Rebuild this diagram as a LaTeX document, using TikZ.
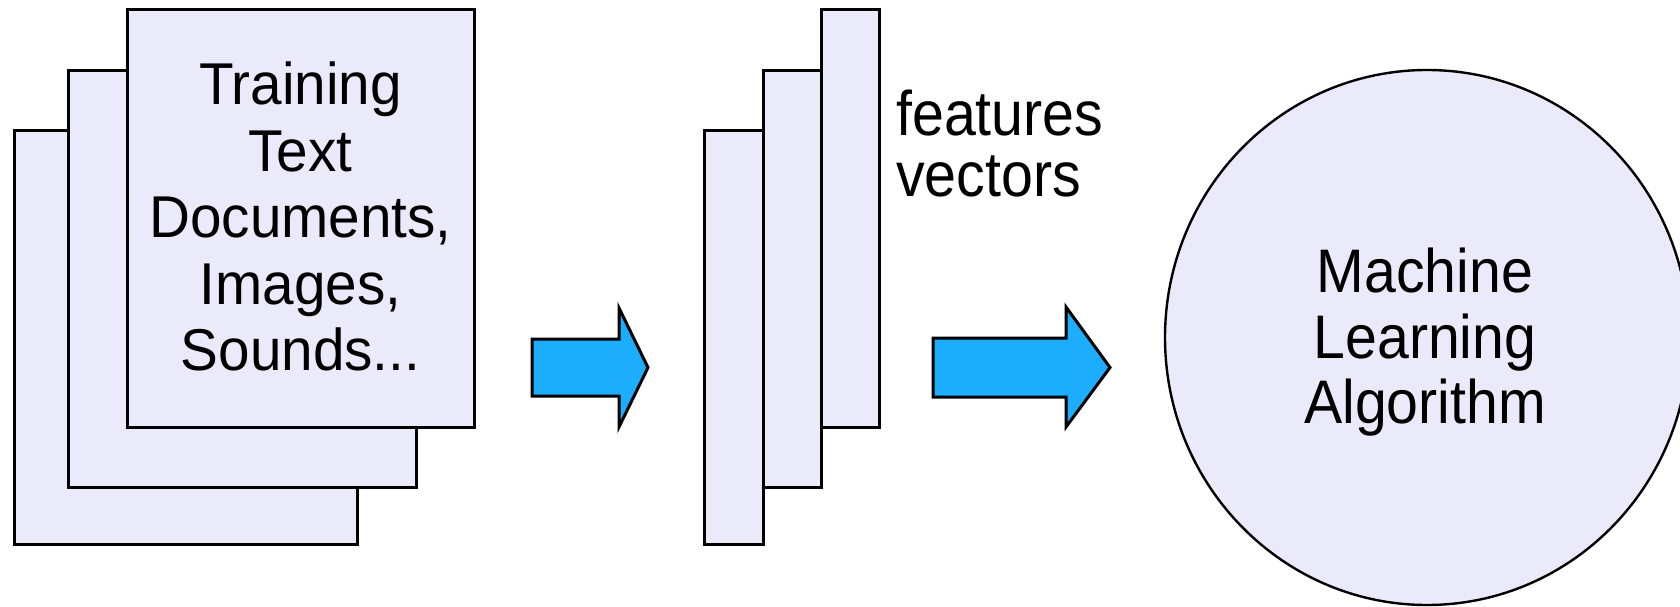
\documentclass[tikz,border=0pt]{standalone}
\usepackage{fontspec}
\usetikzlibrary{shapes.geometric}
\setmainfont{Liberation Sans}
\newfontfamily\docfont[FakeStretch=0.96]{Liberation Sans}
\newfontfamily\featfont[FakeStretch=0.91]{Liberation Sans}
\newfontfamily\mlfont[FakeStretch=0.93]{Liberation Sans}
\definecolor{sheet}{RGB}{234,234,251}
\definecolor{flow}{RGB}{28,173,253}
\tikzset{
  sheetbox/.style={draw=black, fill=sheet, line width=3pt},
  flowarrow/.style={draw=black, fill=flow, line width=3pt, miter limit=20},
  mlcircle/.style={draw=black, fill=sheet, line width=2.4pt},
  doclabel/.style={inner sep=0pt, anchor=north, align=center,
    font=\docfont\fontsize{59}{66.5}\selectfont},
  featlabel/.style={inner sep=0pt, anchor=north west, align=left,
    font=\featfont\fontsize{63}{61}\selectfont},
  mllabel/.style={inner sep=0pt, anchor=north, align=center,
    font=\mlfont\fontsize{61.5}{65.5}\selectfont},
}
\begin{document}
\begin{tikzpicture}[x=1pt, y=-1pt]
\useasboundingbox (0,0) rectangle (1680,607);

% stack of input documents
\draw[sheetbox] (14,130.5) rectangle (357,544);
\draw[sheetbox] (68.5,70.5) rectangle (416,487);
\draw[sheetbox] (127,10) rectangle (474,427);
\node[doclabel] (docs) at (300.5,62) {Training\\Text\\Documents,\\Images,\\Sounds...};

% stack of feature vectors
\draw[sheetbox] (704,130.5) rectangle (763,544);
\draw[sheetbox] (763,70.5) rectangle (821,487);
\draw[sheetbox] (821,10) rectangle (879,427);
\node[featlabel] (feat) at (896,90) {features\\vectors};

% learning algorithm
\node[mlcircle, ellipse, minimum width=524pt, minimum height=535pt, inner sep=0pt]
  (ml) at (1427,337.5) {};
\node[mllabel] (mltext) at (1425,248) {Machine\\Learning\\Algorithm};

% block arrows between the stages
\coordinate (a1) at (532,367.5);
\draw[flowarrow] (a1) ++(0,-28.5) -- ++(87,0) -- ++(0,-31) -- (648,367.5)
  -- (619,427) -- ++(0,-31) -- ++(-87,0) -- cycle;
\coordinate (a2) at (933,367.5);
\draw[flowarrow] (a2) ++(0,-29.5) -- ++(133,0) -- ++(0,-31) -- (1110,367.5)
  -- (1066,427) -- ++(0,-30) -- ++(-133,0) -- cycle;
\end{tikzpicture}
\end{document}
